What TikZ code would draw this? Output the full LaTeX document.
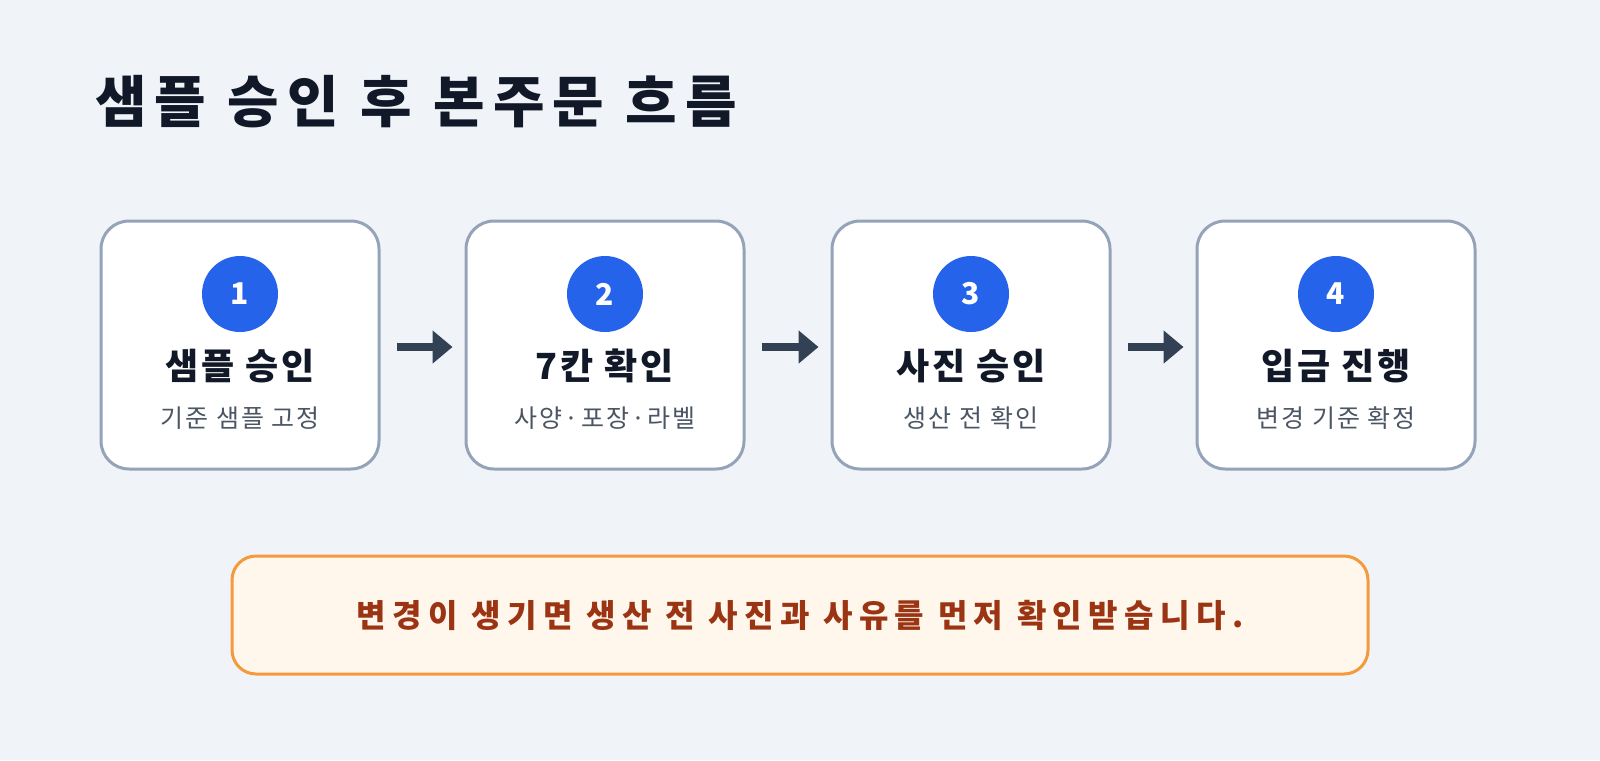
\documentclass[tikz,border=0pt]{standalone}
\usepackage{fontspec}
\setmainfont{Noto Sans CJK KR}
\newfontfamily\widefont[LetterSpace=8]{Noto Sans CJK KR}
\newfontfamily\headfont[LetterSpace=15]{Noto Sans CJK KR}
\newfontfamily\notefont[LetterSpace=20]{Noto Sans CJK KR}
\usetikzlibrary{arrows.meta, positioning}
\definecolor{bgcol}{HTML}{F0F4F9}
\definecolor{boxedge}{HTML}{94A3B8}
\definecolor{stepblue}{HTML}{2563EB}
\definecolor{inkdark}{HTML}{111827}
\definecolor{inkgray}{HTML}{4B5563}
\definecolor{arrowcol}{HTML}{334155}
\definecolor{noteedge}{HTML}{F59A3C}
\definecolor{notefill}{HTML}{FFF6EC}
\definecolor{notetext}{HTML}{9A3412}
\tikzset{
  stepbox/.style={draw=boxedge, line width=1.5pt, fill=white, rounded corners=14pt,
    minimum width=139pt, minimum height=124pt},
  stepnum/.style={circle, fill=stepblue, minimum size=38pt, inner sep=0pt,
    text=white, font=\bfseries\fontsize{15}{18}\selectfont},
  steptitle/.style={text=inkdark, font=\widefont\bfseries\fontsize{18}{21}\selectfont},
  stepsub/.style={text=inkgray, font=\widefont\fontsize{12.5}{15}\selectfont},
  flow/.style={draw=arrowcol, line width=4pt, -{Triangle[length=10pt,width=16pt]}}
}
\begin{document}
\begin{tikzpicture}[x=0.5pt, y=-0.5pt]
\fill[bgcol] (0,0) rectangle (1600,760);
\useasboundingbox (0,0) rectangle (1600,760);

\node[anchor=west, text=inkdark, font=\headfont\bfseries\fontsize{28}{33}\selectfont] (title) at (88,102) {샘플 승인 후 본주문 흐름};

% steps
\foreach \i/\cx/\head/\sub in {1/240/샘플 승인/기준 샘플 고정, 2/605/7칸 확인/사양·포장·라벨,
  3/971/사진 승인/생산 전 확인, 4/1336/입금 진행/변경 기준 확정}{
  \node[stepbox] (s\i) at (\cx,345) {};
  \node[stepnum] (n\i) at (\cx,294) {\i};
  \node[steptitle] (t\i) at (\cx,366) {\head};
  \node[stepsub] (b\i) at (\cx,418) {\sub};
}

\foreach \a/\b in {1/2,2/3,3/4}{ \draw[flow] ([xshift=8pt]s\a.east |- 0,347) -- ([xshift=-6pt]s\b.west |- 0,347); }

\node[draw=noteedge, line width=1.5pt, fill=notefill, rounded corners=12pt,
  minimum width=568pt, minimum height=59pt, text=notetext,
  font=\notefont\bfseries\fontsize{16}{19}\selectfont] (note) at (800,615) {변경이 생기면 생산 전 사진과 사유를 먼저 확인받습니다.};
\end{tikzpicture}
\end{document}
